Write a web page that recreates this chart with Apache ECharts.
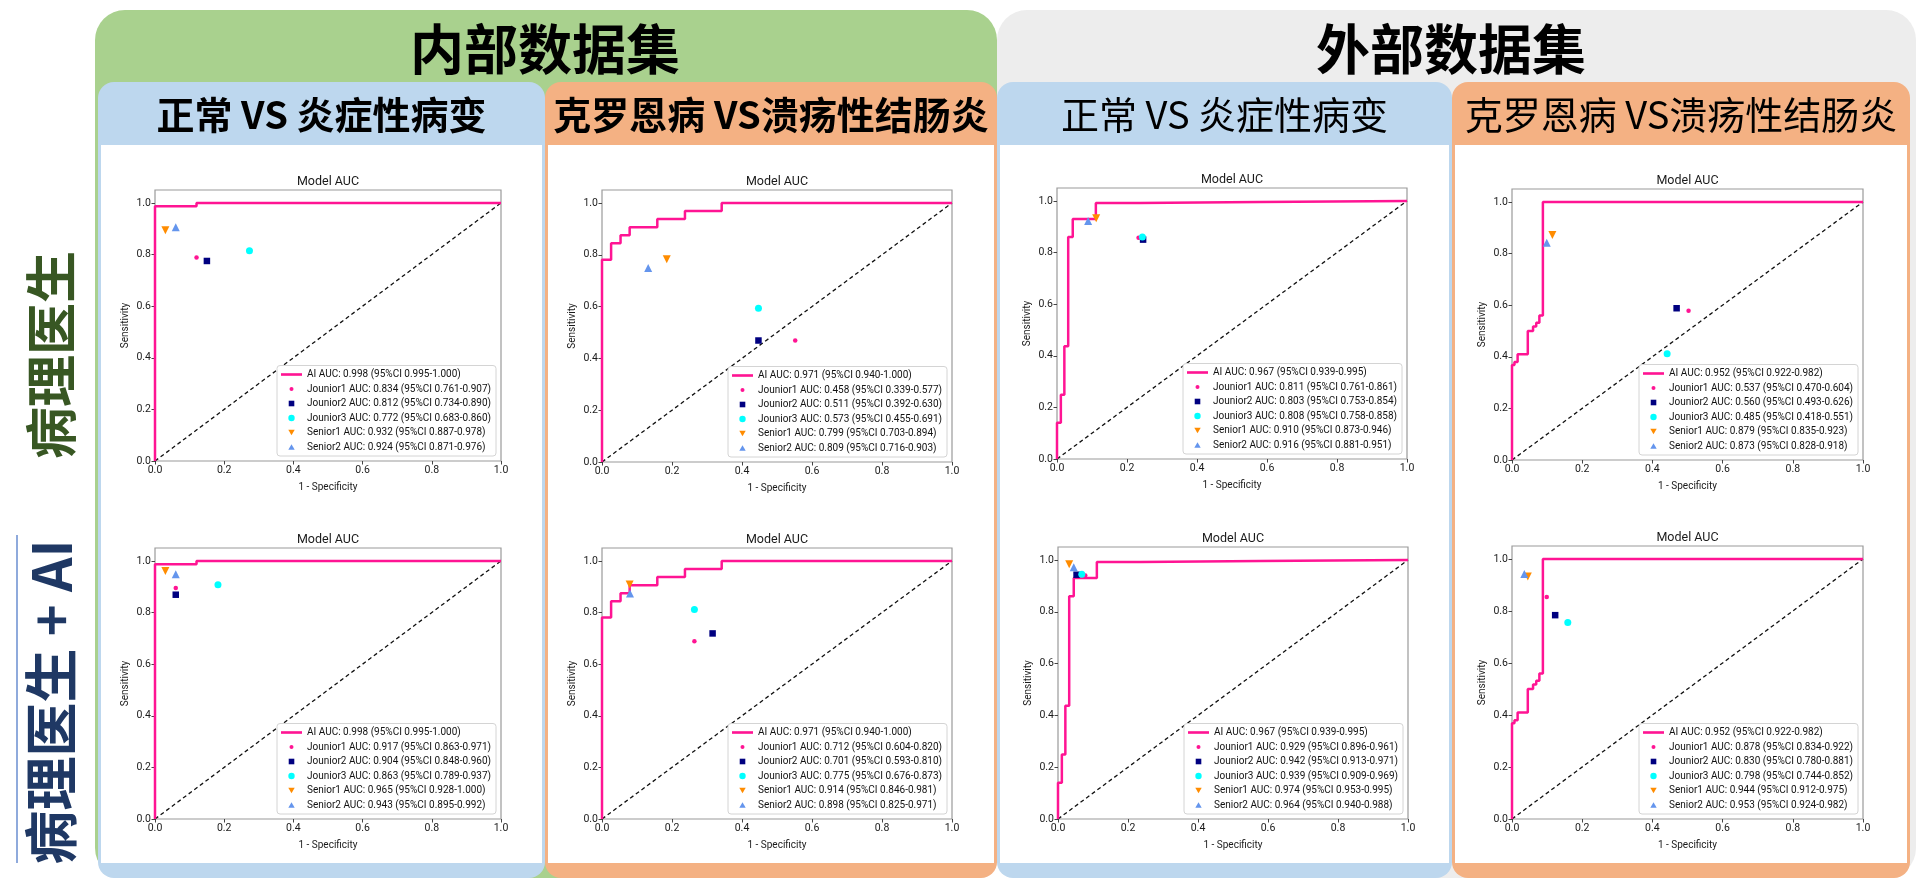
<!DOCTYPE html>
<html>
<head>
<meta charset="utf-8">
<script src="https://cdn.jsdelivr.net/npm/echarts@6.0.0/dist/echarts.min.js"></script>
<style>
html,body{margin:0;padding:0;background:#ffffff;}
#chart{width:1920px;height:884px;}
</style>
</head>
<body>
<div id="chart"></div>
<script>
// ================= DATA =================
const tickValues = [0, 0.2, 0.4, 0.6, 0.8, 1.0];
const readerNames = ['Jounior1', 'Jounior2', 'Jounior3', 'Senior1', 'Senior2'];
const diagonal = [[0, 0], [1, 1]];

const datasetTitles = ['内部数据集', '外部数据集'];
const taskTitles = ['正常 VS 炎症性病变', '克罗恩病 VS溃疡性结肠炎', '正常 VS 炎症性病变', '克罗恩病 VS溃疡性结肠炎'];
const rowTitles = ['病理医生', '病理医生 + AI'];
const panelTitle = 'Model AUC';
const xAxisName = '1 - Specificity';
const yAxisName = 'Sensitivity';

// AI ROC curves [1-specificity, sensitivity]
const rocInternalNormal = [[0,0],[0,0.987],[0.12,0.987],[0.12,1],[1,1]];
const rocInternalCrohn = [[0,0],[0,0.781],[0.026,0.781],[0.026,0.844],[0.053,0.844],[0.053,0.875],[0.079,0.875],[0.079,0.906],[0.158,0.906],[0.158,0.938],[0.237,0.938],[0.237,0.969],[0.342,0.969],[0.342,1],[1,1]];
const rocExternalNormal = [[0,0],[0,0.14],[0.011,0.14],[0.011,0.249],[0.021,0.249],[0.021,0.437],[0.032,0.437],[0.032,0.86],[0.045,0.86],[0.045,0.93],[0.111,0.93],[0.111,0.992],[0.235,0.992],[0.235,0.996],[0.578,0.996],[0.578,1],[1,1]];
const rocExternalCrohn = [[0,0],[0,0.368],[0.007,0.368],[0.007,0.38],[0.016,0.38],[0.016,0.41],[0.045,0.41],[0.045,0.5],[0.06,0.5],[0.06,0.517],[0.069,0.517],[0.069,0.532],[0.078,0.532],[0.078,0.56],[0.088,0.56],[0.088,1],[1,1]];

const aiLabels = [
  'AI AUC: 0.998 (95%CI 0.995-1.000)',
  'AI AUC: 0.971 (95%CI 0.940-1.000)',
  'AI AUC: 0.967 (95%CI 0.939-0.995)',
  'AI AUC: 0.952 (95%CI 0.922-0.982)'
];

// reader operating points [1-specificity, sensitivity] for Jounior1..3, Senior1..2
const pathoInternalNormal = [[0.120,0.788],[0.150,0.775],[0.273,0.815],[0.030,0.894],[0.060,0.906]];
const pathoInternalCrohn  = [[0.552,0.469],[0.447,0.469],[0.447,0.594],[0.185,0.783],[0.132,0.749]];
const pathoExternalNormal = [[0.233,0.857],[0.246,0.850],[0.244,0.860],[0.112,0.933],[0.089,0.922]];
const pathoExternalCrohn  = [[0.503,0.578],[0.469,0.588],[0.442,0.412],[0.115,0.872],[0.099,0.842]];
const aiInternalNormal    = [[0.060,0.895],[0.060,0.869],[0.182,0.908],[0.030,0.961],[0.060,0.948]];
const aiInternalCrohn     = [[0.264,0.689],[0.316,0.719],[0.264,0.812],[0.079,0.909],[0.080,0.874]];
const aiExternalNormal    = [[0.078,0.940],[0.053,0.943],[0.068,0.945],[0.032,0.983],[0.045,0.972]];
const aiExternalCrohn     = [[0.099,0.854],[0.123,0.784],[0.159,0.756],[0.045,0.933],[0.035,0.942]];

const pathoAUC = [
  ['0.834 (95%CI 0.761-0.907)','0.812 (95%CI 0.734-0.890)','0.772 (95%CI 0.683-0.860)','0.932 (95%CI 0.887-0.978)','0.924 (95%CI 0.871-0.976)'],
  ['0.458 (95%CI 0.339-0.577)','0.511 (95%CI 0.392-0.630)','0.573 (95%CI 0.455-0.691)','0.799 (95%CI 0.703-0.894)','0.809 (95%CI 0.716-0.903)'],
  ['0.811 (95%CI 0.761-0.861)','0.803 (95%CI 0.753-0.854)','0.808 (95%CI 0.758-0.858)','0.910 (95%CI 0.873-0.946)','0.916 (95%CI 0.881-0.951)'],
  ['0.537 (95%CI 0.470-0.604)','0.560 (95%CI 0.493-0.626)','0.485 (95%CI 0.418-0.551)','0.879 (95%CI 0.835-0.923)','0.873 (95%CI 0.828-0.918)']
];
const aiAssistAUC = [
  ['0.917 (95%CI 0.863-0.971)','0.904 (95%CI 0.848-0.960)','0.863 (95%CI 0.789-0.937)','0.965 (95%CI 0.928-1.000)','0.943 (95%CI 0.895-0.992)'],
  ['0.712 (95%CI 0.604-0.820)','0.701 (95%CI 0.593-0.810)','0.775 (95%CI 0.676-0.873)','0.914 (95%CI 0.846-0.981)','0.898 (95%CI 0.825-0.971)'],
  ['0.929 (95%CI 0.896-0.961)','0.942 (95%CI 0.913-0.971)','0.939 (95%CI 0.909-0.969)','0.974 (95%CI 0.953-0.995)','0.964 (95%CI 0.940-0.988)'],
  ['0.878 (95%CI 0.834-0.922)','0.830 (95%CI 0.780-0.881)','0.798 (95%CI 0.744-0.852)','0.944 (95%CI 0.912-0.975)','0.953 (95%CI 0.924-0.982)']
];

// ================= LAYOUT / STYLE =================
const W = 1920, H = 884;
const FONT = 'Roboto, "Noto Sans", sans-serif';
const CJK = '"Noto Sans CJK SC", sans-serif';
const AI_COLOR = '#ff1493';
const readerStyles = [
  {color: '#ff1493', symbol: 'circle', size: 4.5, rotate: 0, icon: 'path://M0,0M10,10M2.5,5A2.5,2.5,0,1,1,7.5,5A2.5,2.5,0,1,1,2.5,5Z'},
  {color: '#000080', symbol: 'rect', size: 6.5, rotate: 0, icon: 'path://M0,0M10,10M1.5,1.5H8.5V8.5H1.5Z'},
  {color: '#00ffff', symbol: 'circle', size: 7, rotate: 0, icon: 'path://M0,0M10,10M1,5A4,4,0,1,1,9,5A4,4,0,1,1,1,5Z'},
  {color: '#ff8c00', symbol: 'triangle', size: 8, rotate: 180, icon: 'path://M0,0M10,10M1,1.5H9L5,8.5Z'},
  {color: '#6495ed', symbol: 'triangle', size: 8, rotate: 0, icon: 'path://M0,0M10,10M5,1.5L9,8.5H1Z'}
];
const AI_ICON = 'path://M0,0H40V5H0Z';

const panels = [
  {rect: [155, 190, 346, 271], roc: rocInternalNormal, ai: aiLabels[0], pts: pathoInternalNormal, auc: pathoAUC[0]},
  {rect: [602, 190, 350, 272], roc: rocInternalCrohn,  ai: aiLabels[1], pts: pathoInternalCrohn,  auc: pathoAUC[1]},
  {rect: [1057, 188, 350, 271], roc: rocExternalNormal, ai: aiLabels[2], pts: pathoExternalNormal, auc: pathoAUC[2]},
  {rect: [1512, 189, 351, 271], roc: rocExternalCrohn, ai: aiLabels[3], pts: pathoExternalCrohn, auc: pathoAUC[3]},
  {rect: [155, 548, 346, 271], roc: rocInternalNormal, ai: aiLabels[0], pts: aiInternalNormal, auc: aiAssistAUC[0]},
  {rect: [602, 548, 350, 271], roc: rocInternalCrohn,  ai: aiLabels[1], pts: aiInternalCrohn,  auc: aiAssistAUC[1]},
  {rect: [1058, 547, 350, 272], roc: rocExternalNormal, ai: aiLabels[2], pts: aiExternalNormal, auc: aiAssistAUC[2]},
  {rect: [1512, 546, 351, 273], roc: rocExternalCrohn, ai: aiLabels[3], pts: aiExternalCrohn, auc: aiAssistAUC[3]}
];

// column boxes: [x, width, color]
const columns = [[98, 447, '#bdd7ee'], [545, 452, '#f4b183'], [997, 455, '#bdd7ee'], [1452, 458, '#f4b183']];

const grids = [], xAxes = [], yAxes = [], series = [], legends = [], titles = [];
panels.forEach((p, i) => {
  const [l, t, w, h] = p.rect;
  grids.push({z: 3, left: l, top: t, width: w, height: h, show: true, borderColor: '#9a9a9a', borderWidth: 1.2, backgroundColor: 'transparent'});
  const common = {
    z: 3, gridIndex: i, type: 'value', nameLocation: 'middle',
    nameTextStyle: {fontFamily: FONT, fontSize: 10, color: '#1a1a1a'},
    splitLine: {show: false}, axisLine: {show: false},
    axisTick: {show: true, inside: false, length: 3.5, lineStyle: {color: '#444', width: 1}, customValues: tickValues},
    axisLabel: {customValues: tickValues, formatter: v => v.toFixed(1), fontFamily: FONT, fontSize: 10.5, color: '#1a1a1a'}
  };
  xAxes.push(Object.assign({}, common, {min: 0, max: 1, name: xAxisName, nameGap: 21,
    axisLabel: Object.assign({}, common.axisLabel, {margin: 3.5})}));
  yAxes.push(Object.assign({}, common, {min: 0, max: 1.05, name: yAxisName, nameGap: 25,
    axisLabel: Object.assign({}, common.axisLabel, {margin: 4})}));
  titles.push({z: 6, text: panelTitle, left: l + w / 2, top: t - 15, textAlign: 'center', padding: 0,
    textStyle: {fontFamily: FONT, fontSize: 12.5, fontWeight: 'normal', color: '#1a1a1a'}});

  series.push({type: 'line', name: 'chance' + i, xAxisIndex: i, yAxisIndex: i, data: diagonal,
    symbol: 'none', silent: true, z: 4,
    lineStyle: {color: '#111', width: 1.3, type: [4, 3]}});
  series.push({type: 'line', name: p.ai, xAxisIndex: i, yAxisIndex: i, data: p.roc,
    symbol: 'none', showSymbol: false, silent: true, z: 5,
    itemStyle: {color: AI_COLOR}, lineStyle: {color: AI_COLOR, width: 2.5}});
  const legendData = [{name: p.ai, icon: AI_ICON}];
  readerNames.forEach((rn, k) => {
    const st = readerStyles[k];
    const nm = rn + ' AUC: ' + p.auc[k];
    series.push({type: 'scatter', name: nm, xAxisIndex: i, yAxisIndex: i, data: [p.pts[k]],
      symbol: st.symbol, symbolSize: st.size, symbolRotate: st.rotate, z: 6,
      itemStyle: {color: st.color, opacity: 1}});
    legendData.push({name: nm, icon: st.icon});
  });
  legends.push({
    z: 7,
    orient: 'vertical', right: W - (l + w) + 5, bottom: H - (t + h) + 5,
    data: legendData, itemWidth: 21, itemHeight: 8, itemGap: 2.5, align: 'left',
    padding: [3, 5, 3, 4], borderColor: '#d4d4d4', borderWidth: 1, borderRadius: 3,
    backgroundColor: '#ffffff', selectedMode: false, symbolKeepAspect: true,
    textStyle: {fontFamily: FONT, fontSize: 10, color: '#111', lineHeight: 12}
  });
});

// decorative boxes & headers (all below the charts)
const graphic = [];
graphic.push({type: 'rect', z: 0, shape: {x: 95, y: 10, width: 902, height: 868, r: 30}, style: {fill: '#a9d18e'}});
graphic.push({type: 'rect', z: 0, shape: {x: 997, y: 10, width: 919, height: 868, r: 30}, style: {fill: '#ededed'}});
columns.forEach(([x, w, c], k) => {
  graphic.push({type: 'rect', z: 0.3, shape: {x: x, y: 82, width: w, height: 796, r: 16}, style: {fill: c}});
  graphic.push({type: 'rect', z: 0.6, shape: {x: x + 3, y: 145, width: w - 6, height: 718}, style: {fill: '#ffffff'}});
  graphic.push({type: 'text', z: 1, x: x + w / 2, y: 115, style: {text: taskTitles[k], fill: '#000',
    fontSize: 38, fontWeight: k < 2 ? 'bold' : 'normal', fontFamily: CJK, align: 'center', verticalAlign: 'middle'}});
});
graphic.push({type: 'text', z: 1, x: 545, y: 49, style: {text: datasetTitles[0], fill: '#000', fontSize: 54, fontWeight: 'bold', fontFamily: CJK, align: 'center', verticalAlign: 'middle'}});
graphic.push({type: 'text', z: 1, x: 1451, y: 49, style: {text: datasetTitles[1], fill: '#000', fontSize: 54, fontWeight: 'bold', fontFamily: CJK, align: 'center', verticalAlign: 'middle'}});
graphic.push({type: 'text', z: 1, x: 51, y: 355, rotation: Math.PI / 2, style: {text: rowTitles[0], fill: '#385723', fontSize: 52, fontWeight: 'bold', fontFamily: CJK, align: 'center', verticalAlign: 'middle'}});
graphic.push({type: 'text', z: 1, x: 51, y: 702, rotation: Math.PI / 2, style: {text: rowTitles[1], fill: '#1f3864', fontSize: 54, fontWeight: 'bold', fontFamily: CJK, align: 'center', verticalAlign: 'middle'}});
graphic.push({type: 'line', z: 1, shape: {x1: 17, y1: 535, x2: 17, y2: 863}, style: {stroke: '#8faadc', lineWidth: 2}});

const chart = echarts.init(document.getElementById('chart'), null, {renderer: 'canvas', width: W, height: H});
chart.setOption({
  animation: false,
  backgroundColor: '#ffffff',
  graphic: graphic,
  title: titles,
  grid: grids,
  xAxis: xAxes,
  yAxis: yAxes,
  legend: legends,
  series: series
});
</script>
</body>
</html>
